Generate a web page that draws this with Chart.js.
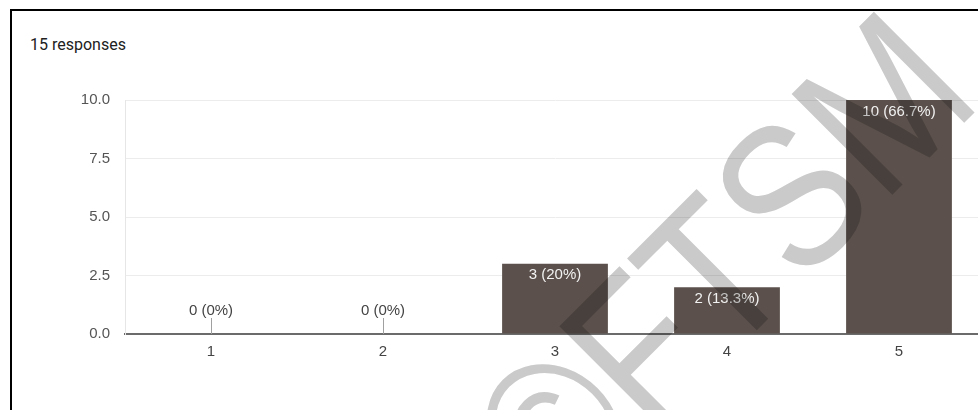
<!DOCTYPE html>
<html>
<head>
<meta charset="utf-8">
<script src="https://cdn.jsdelivr.net/npm/chart.js@4/dist/chart.umd.min.js"></script>
<style>
  html, body { margin: 0; padding: 0; background: #fff; overflow: hidden; }
  #frame {
    position: absolute; left: 10px; top: 9px; width: 1200px; height: 600px;
    border-left: 2px solid #000; border-top: 2px solid #000;
  }
  #title {
    position: absolute; left: 30px; top: 35px; line-height: 20px;
    font-family: Roboto, "Liberation Sans", Arial, sans-serif; font-size: 16px; color: #212121;
  }
  #wrap { position: absolute; left: 0; top: 0; width: 1000px; height: 410px; }
</style>
</head>
<body>
<div id="frame"></div>
<div id="title">15 responses</div>
<div id="wrap"><canvas id="myBarChart"></canvas></div>
<script>
// Dữ liệu
const categories = ["1", "2", "3", "4", "5"];
const counts = [0, 0, 3, 2, 10];
const percentLabels = ["0%", "0%", "20%", "13.3%", "66.7%"];
const yTickValues = [0, 2.5, 5, 7.5, 10];

Chart.defaults.font.family = "'Liberation Sans', Arial, sans-serif";
Chart.defaults.font.size = 15;
Chart.defaults.color = "#555";

// Nhãn trên cột (kiểu Google Forms)
const barLabels = {
  id: "barLabels",
  afterDatasetsDraw(chart) {
    const ctx = chart.ctx;
    const meta = chart.getDatasetMeta(0);
    ctx.save();
    ctx.font = "15px 'Liberation Sans', Arial, sans-serif";
    ctx.textAlign = "center";
    meta.data.forEach((bar, i) => {
      const txt = counts[i] + " (" + percentLabels[i] + ")";
      if (counts[i] > 0) {
        ctx.fillStyle = "#f2f2f2";
        ctx.textBaseline = "top";
        ctx.fillText(txt, bar.x, bar.y + 4);
      } else {
        ctx.strokeStyle = "#a0a0a0";
        ctx.lineWidth = 1;
        ctx.beginPath();
        ctx.moveTo(Math.round(bar.x) + 0.5, bar.y - 16);
        ctx.lineTo(Math.round(bar.x) + 0.5, bar.y);
        ctx.stroke();
        ctx.fillStyle = "#444";
        ctx.textBaseline = "middle";
        ctx.fillText(txt, bar.x, bar.y - 23);
      }
    });
    ctx.restore();
  },
};

// Hình mờ chéo (chữ hơi hẹp, xoay -45 độ)
const watermark = {
  id: "watermark",
  afterDraw(chart) {
    const ctx = chart.ctx;
    ctx.save();
    ctx.globalCompositeOperation = "multiply";
    ctx.fillStyle = "#cacaca";
    ctx.font = "207px 'Liberation Sans', Arial, sans-serif";
    ctx.textAlign = "left";
    ctx.textBaseline = "alphabetic";
    ctx.translate(650, 437);
    ctx.rotate(-45 * Math.PI / 180);
    ctx.scale(0.84, 1);
    const copyW = ctx.measureText("\u00A9").width;
    ctx.fillText("\u00A9FTSM", -copyW, 0);
    ctx.restore();
  },
};

const config = {
  type: "bar",
  data: {
    labels: categories,
    datasets: [
      {
        label: "Responses",
        data: counts,
        backgroundColor: "#5b504b",
        barPercentage: 0.615,
        categoryPercentage: 1,
      },
    ],
  },
  options: {
    responsive: true,
    maintainAspectRatio: false,
    animation: false,
    layout: { padding: { left: 0, right: 15, top: 100, bottom: 46 } },
    plugins: {
      legend: { display: false },
      tooltip: { enabled: false },
    },
    scales: {
      x: {
        z: 1,
        grid: { display: false, drawTicks: false },
        border: { display: true, color: "#6b6b6b", width: 2 },
        ticks: { padding: 9, color: "#444" },
        afterFit(scale) { scale.height = 30; },
      },
      y: {
        min: 0,
        max: 10,
        grid: {
          drawTicks: false,
          color: (c) => (c.tick && c.tick.value === 0 ? "rgba(0,0,0,0)" : "#ececec"),
        },
        border: { display: true, color: "#e6e6e6", width: 1 },
        ticks: { padding: 15, stepSize: 2.5, callback: (v) => v.toFixed(1) },
        afterBuildTicks(scale) { scale.ticks = yTickValues.map((v) => ({ value: v })); },
        afterFit(scale) { scale.width = 125; },
      },
    },
  },
  plugins: [barLabels, watermark],
};

const myBarChart = new Chart(document.getElementById("myBarChart"), config);
</script>
</body>
</html>
